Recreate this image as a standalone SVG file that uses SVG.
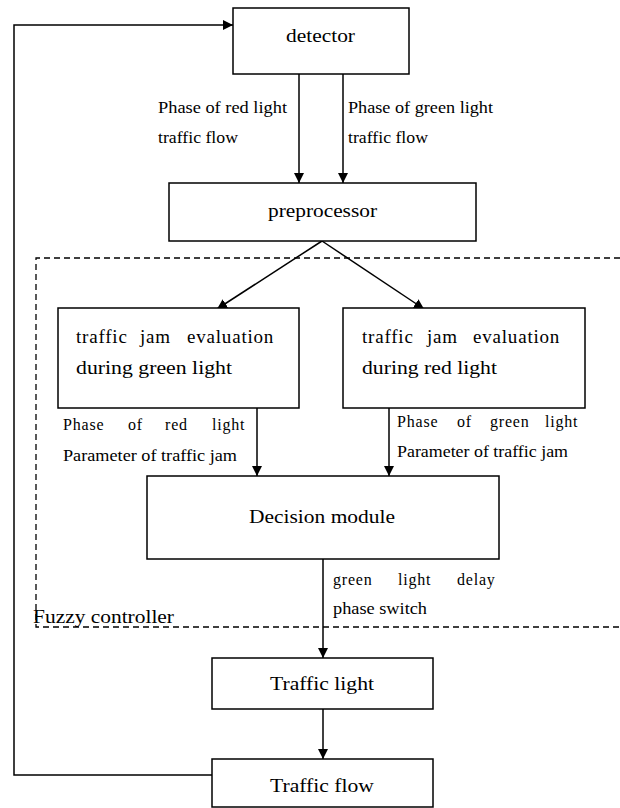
<svg xmlns="http://www.w3.org/2000/svg" width="620" height="808" viewBox="0 0 620 808">
<defs>
<marker id="ah" viewBox="0 0 10 10" refX="10" refY="5" markerWidth="10" markerHeight="10" markerUnits="userSpaceOnUse" orient="auto">
<path d="M0,0 L10,5 L0,10 z" fill="#000"/>
</marker>
<style>
.box{fill:#fff;stroke:#000;stroke-width:1.5}
.t{font-family:"Liberation Serif","Times New Roman",serif;font-size:19px;fill:#000}
.l{font-family:"Liberation Serif","Times New Roman",serif;font-size:16px;fill:#000}
.ls{letter-spacing:0.8px}
.c{stroke:#000;stroke-width:1.5;fill:none}
.d{stroke:#000;stroke-width:1.3;fill:none;stroke-dasharray:6,4}
</style>
</defs>
<rect width="620" height="808" fill="#fff"/>
<g id="fuzzy-controller">
<path class="d" d="M620,258 H36 V627 H620"/>
<text class="t" x="33" y="623" textLength="141" lengthAdjust="spacingAndGlyphs">Fuzzy controller</text>
</g>
<g id="connectors">
<path class="c" d="M212,775 H14 V25 H233" marker-end="url(#ah)"/>
<path class="c" d="M299,74 V183" marker-end="url(#ah)"/>
<path class="c" d="M343,74 V183" marker-end="url(#ah)"/>
<path class="c" d="M322,241 L217,309" marker-end="url(#ah)"/>
<path class="c" d="M322,241 L424,309" marker-end="url(#ah)"/>
<path class="c" d="M257,408 V476" marker-end="url(#ah)"/>
<path class="c" d="M389,408 V476" marker-end="url(#ah)"/>
<path class="c" d="M323,559 V658" marker-end="url(#ah)"/>
<path class="c" d="M323,709 V759" marker-end="url(#ah)"/>
<text class="l" x="158" y="113" textLength="129" lengthAdjust="spacingAndGlyphs">Phase of red light</text>
<text class="l" x="158" y="143" textLength="80" lengthAdjust="spacingAndGlyphs">traffic flow</text>
<text class="l" x="348" y="113" textLength="145" lengthAdjust="spacingAndGlyphs">Phase of green light</text>
<text class="l" x="348" y="143" textLength="80" lengthAdjust="spacingAndGlyphs">traffic flow</text>
<text class="l ls" y="430"><tspan x="63">Phase</tspan><tspan x="128">of</tspan><tspan x="165">red</tspan><tspan x="212">light</tspan></text>
<text class="l" x="63" y="461" textLength="174" lengthAdjust="spacingAndGlyphs">Parameter of traffic jam</text>
<text class="l ls" y="427"><tspan x="397">Phase</tspan><tspan x="457">of</tspan><tspan x="490">green</tspan><tspan x="545">light</tspan></text>
<text class="l" x="397" y="457" textLength="171" lengthAdjust="spacingAndGlyphs">Parameter of traffic jam</text>
<text class="l ls" y="585"><tspan x="333">green</tspan><tspan x="398">light</tspan><tspan x="457">delay</tspan></text>
<text class="l" x="333" y="614" textLength="94" lengthAdjust="spacingAndGlyphs">phase switch</text>
</g>
<g id="detector">
<rect class="box" x="233" y="8" width="176" height="66"/>
<text class="t" x="286" y="42" textLength="69" lengthAdjust="spacingAndGlyphs">detector</text>
</g>
<g id="preprocessor">
<rect class="box" x="169" y="183" width="307" height="58"/>
<text class="t" x="268" y="217" textLength="109" lengthAdjust="spacingAndGlyphs">preprocessor</text>
</g>
<g id="eval-green">
<rect class="box" x="58" y="308" width="241" height="100"/>
<text class="t ls" y="343"><tspan x="76">traffic</tspan><tspan x="140">jam</tspan><tspan x="187">evaluation</tspan></text>
<text class="t" x="76" y="374" textLength="156" lengthAdjust="spacingAndGlyphs">during green light</text>
</g>
<g id="eval-red">
<rect class="box" x="343" y="308" width="242" height="100"/>
<text class="t ls" y="343"><tspan x="362">traffic</tspan><tspan x="427">jam</tspan><tspan x="473">evaluation</tspan></text>
<text class="t" x="362" y="374" textLength="135" lengthAdjust="spacingAndGlyphs">during red light</text>
</g>
<g id="decision">
<rect class="box" x="147" y="476" width="352" height="83"/>
<text class="t" x="249" y="523" textLength="146" lengthAdjust="spacingAndGlyphs">Decision module</text>
</g>
<g id="traffic-light">
<rect class="box" x="212" y="658" width="221" height="51"/>
<text class="t" x="270" y="690" textLength="104" lengthAdjust="spacingAndGlyphs">Traffic light</text>
</g>
<g id="traffic-flow">
<rect class="box" x="212" y="759" width="221" height="48"/>
<text class="t" x="270" y="792" textLength="104" lengthAdjust="spacingAndGlyphs">Traffic flow</text>
</g>
</svg>
